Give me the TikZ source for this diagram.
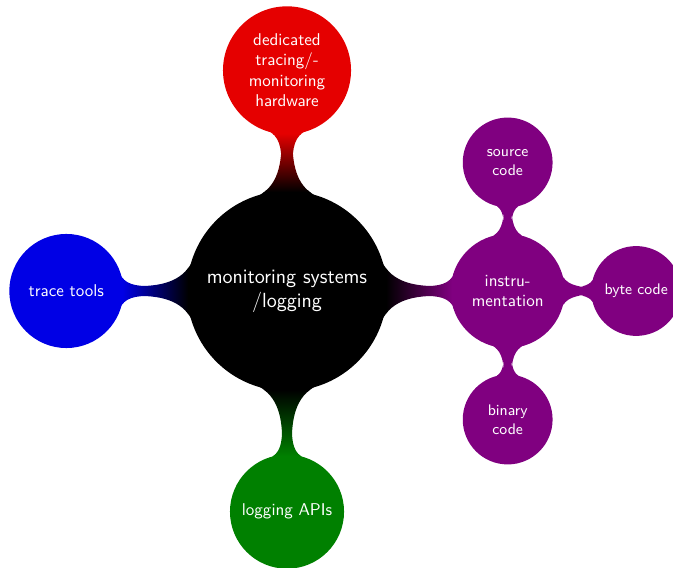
\documentclass[tikz,border=0pt]{standalone}
\usepackage{tikz}
\usetikzlibrary{mindmap,positioning}

\begin{document}
\begin{tikzpicture}[mindmap, node distance=4.55cm, on grid,
    every node/.style={concept, text=white, align=center},
    top/.style={minimum size=4.08cm, text width=3.8cm, font=\sffamily\large},
    branch/.style={minimum size=2.31cm, text width=2cm, font=\sffamily},
    leaf/.style={minimum size=1.81cm, text width=1.5cm, font=\sffamily\small}]
  \useasboundingbox (-5.918,-5.711) rectangle (7.959,6.0);
  \node[top, concept color=black] (root) {monitoring systems\\/logging};
  \node[branch, concept color=red!90!black] (hw) [above = of root] {dedicated\\tracing/-\\monitoring\\hardware};
  \node[branch, concept color=blue!90!black] (tools) [left = of root] {trace tools};
  \node[branch, concept color=green!50!black] (api) [below = of root] {logging APIs};
  \node[branch, concept color=violet] (instr) [right = of root] {instru-\\mentation};
  \node[leaf, concept color=violet] (src) [above = 2.65cm of instr] {source\\code};
  \node[leaf, concept color=violet] (byte) [right = 2.65cm of instr] {byte code};
  \node[leaf, concept color=violet] (bin) [below = 2.65cm of instr] {binary\\code};
  \foreach \from/\to/\fromc/\toc in {root/hw/black/red!90!black, root/tools/black/blue!90!black,
      root/api/black/green!50!black, root/instr/black/violet,
      instr/src/violet/violet, instr/byte/violet/violet, instr/bin/violet/violet}
    \path (\from) to[circle connection bar switch color=from (\fromc) to (\toc)] (\to);
\end{tikzpicture}
\end{document}
